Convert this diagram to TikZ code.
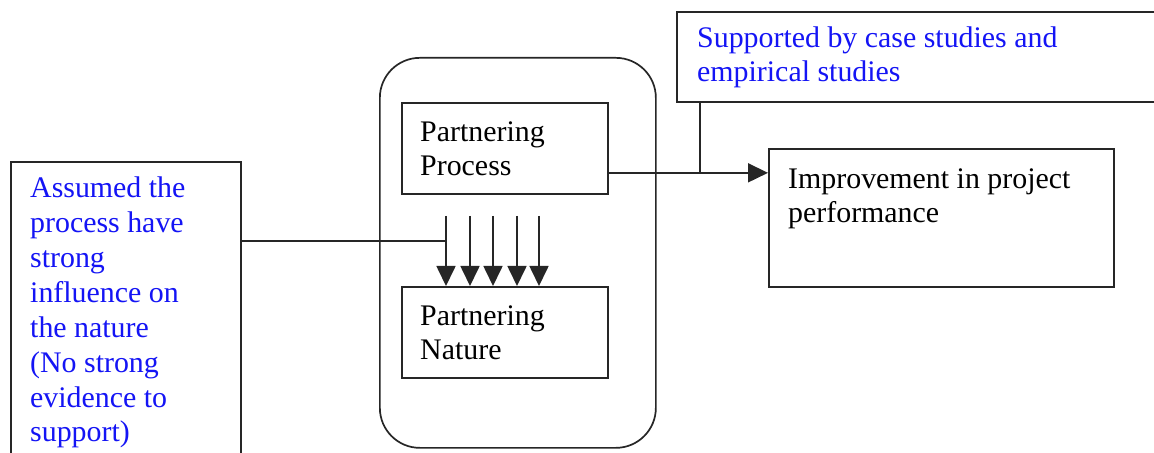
\documentclass[tikz,border=0pt]{standalone}
\usepackage{fontspec}
\setmainfont{Liberation Serif}
\usetikzlibrary{arrows.meta}
\definecolor{notecol}{RGB}{20,20,245}
\tikzset{
  box/.style={draw=black!85, line width=1.7bp, fill=white, inner sep=0pt, anchor=north west},
  lbl/.style={inner sep=0pt, anchor=base west, align=left,
    font=\fontsize{30}{35}\selectfont},
  note/.style={lbl, text=notecol},
  link/.style={draw=black!85, line width=1.7bp},
  tip/.style={link, -{Triangle[length=20bp, width=19bp]}}
}
\begin{document}
\begin{tikzpicture}[x=1bp, y=-1bp]
  \useasboundingbox (0,0) rectangle (1154,453);

  % container holding the two partnering boxes
  \node[box, rounded corners=40bp, minimum width=276bp, minimum height=390bp] (group) at (379,57) {};

  % text nodes are placed by the baseline of their last line
  \node[box, minimum width=206bp, minimum height=91bp] (proc) at (401,102) {};
  \node[lbl] (proctxt) at (420,176) {Partnering\\Process};

  \node[box, minimum width=206bp, minimum height=91bp] (nat) at (401,286) {};
  \node[lbl] (nattxt) at (420,360) {Partnering\\Nature};

  % outcome box
  \node[box, minimum width=345bp, minimum height=138bp] (imp) at (768,148) {};
  \node[lbl] (imptxt) at (788,223) {Improvement in project\\performance};

  % annotation boxes
  \node[box, minimum width=500bp, minimum height=90bp] (sup) at (676,11) {};
  \node[note] (suptxt) at (697,82) {Supported by case studies and\\empirical studies};

  \node[box, minimum width=230bp, minimum height=320bp] (asm) at (10,161) {};
  \node[note] (asmtxt) at (30,442) {Assumed the\\process have\\strong\\influence on\\the nature\\(No strong\\evidence to\\support)};

  % process -> performance
  \coordinate (pout) at ([yshift=-24.5bp]proc.east);
  \draw[tip] (pout) -- (imp.west |- pout);
  \coordinate (join) at (700,172);
  \draw[link] (sup.south -| join) -- (join);

  % influence arrows onto the nature box
  \coordinate (a1) at (446,216);
  \coordinate (a2) at (470,216);
  \coordinate (a3) at (493,216);
  \coordinate (a4) at (517,216);
  \coordinate (a5) at (539,216);
  \draw[link] ([yshift=-80bp]asm.north east) -- (a1 |- 0,241);
  \foreach \i in {1,...,5}
    \draw[tip] (a\i) -- (a\i |- nat.north);
\end{tikzpicture}
\end{document}
